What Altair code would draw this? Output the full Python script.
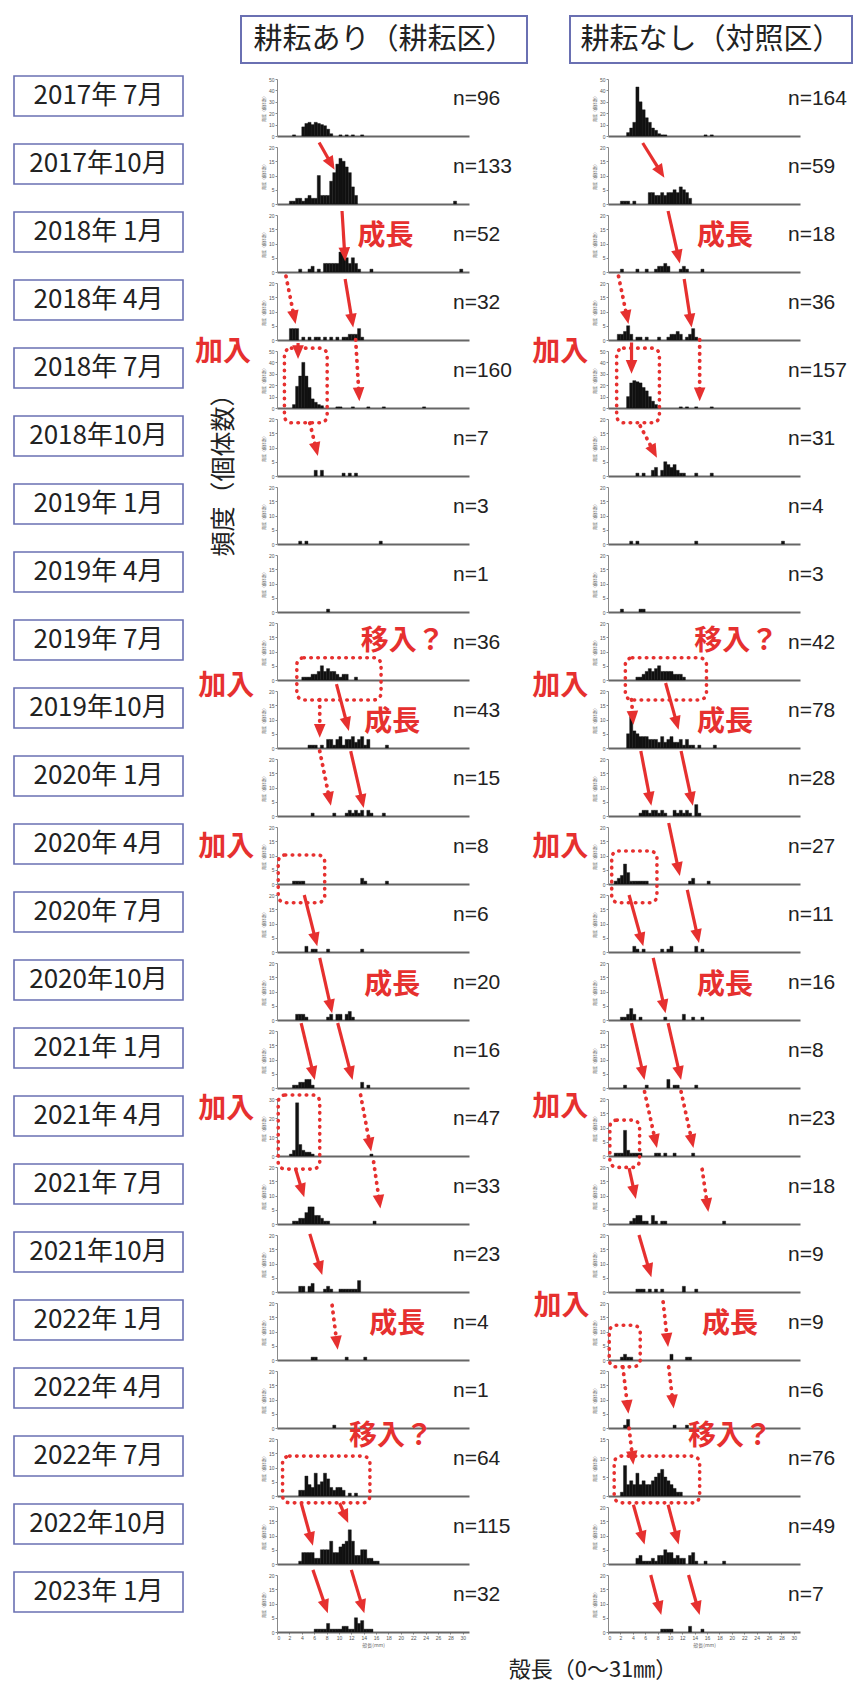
import math
import altair as alt
import pandas as pd

# ---------------------------------------------------------------- data
periods = ["2017年 7月", "2017年10月", "2018年 1月", "2018年 4月", "2018年 7月", "2018年10月",
           "2019年 1月", "2019年 4月", "2019年 7月", "2019年10月", "2020年 1月", "2020年 4月",
           "2020年 7月", "2020年10月", "2021年 1月", "2021年 4月", "2021年 7月", "2021年10月",
           "2022年 1月", "2022年 4月", "2022年 7月", "2022年10月", "2023年 1月"]

n_tilled = [96, 133, 52, 32, 160, 7, 3, 1, 36, 43, 15, 8, 6, 20, 16, 47, 33, 23, 4, 1, 64, 115, 32]
n_control = [164, 59, 18, 36, 157, 31, 4, 3, 42, 78, 28, 27, 11, 16, 8, 23, 18, 9, 9, 6, 76, 49, 7]

# top of each panel's frequency axis
ymax_tilled = [50, 20, 20, 20, 50, 20, 20, 20, 20, 20, 20, 20, 20, 20, 20, 30, 20, 20, 20, 20, 20, 20, 20]
ymax_control = [50, 20, 20, 20, 50, 20, 20, 20, 20, 20, 20, 20, 20, 20, 20, 20, 20, 20, 20, 20, 15, 20, 20]

# shell-length frequency: (bin start in mm, count), 0.5 mm bins
tilled_hist = [
    [(2.5, 1), (4.0, 8), (4.5, 11), (5.0, 12), (5.5, 10), (6.0, 12), (6.5, 11), (7.0, 10), (7.5, 9), (8.0, 6), (8.5, 2), (10.0, 1), (11.0, 1), (12.0, 1), (13.5, 1)],
    [(2.0, 1), (2.5, 1), (3.0, 2), (3.5, 2), (4.0, 1), (4.5, 2), (5.0, 3), (5.5, 2), (6.0, 2), (6.5, 10), (7.0, 3), (7.5, 3), (8.0, 3), (8.5, 8), (9.0, 11), (9.5, 14), (10.0, 16), (10.5, 15), (11.0, 13), (11.5, 11), (12.0, 6), (12.5, 3), (28.5, 1)],
    [(3.5, 1), (5.0, 1), (5.5, 2), (6.5, 1), (7.5, 3), (8.0, 3), (8.5, 3), (9.0, 3), (9.5, 3), (10.0, 7), (10.5, 6), (11.0, 5), (11.5, 3), (12.0, 5), (12.5, 3), (13.0, 1), (15.0, 1), (29.5, 1)],
    [(2.0, 4), (2.5, 4), (3.0, 4), (4.0, 1), (5.0, 1), (6.0, 1), (6.5, 1), (7.5, 1), (8.5, 1), (9.5, 1), (10.5, 1), (11.0, 1), (11.5, 2), (12.0, 2), (12.5, 2), (13.0, 4), (13.5, 1)],
    [(2.5, 3), (3.0, 19), (3.5, 28), (4.0, 40), (4.5, 28), (5.0, 18), (5.5, 8), (6.0, 5), (6.5, 3), (7.0, 2), (9.5, 1), (10.0, 1), (12.0, 1), (14.5, 1), (17.0, 1), (23.5, 1)],
    [(6.0, 2), (7.0, 2), (10.5, 1), (11.5, 1), (12.5, 1)],
    [(3.5, 1), (4.5, 1), (16.5, 1)],
    [(8.0, 1)],
    [(4.0, 1), (4.5, 1), (5.0, 1), (5.5, 2), (6.0, 2), (6.5, 3), (7.0, 5), (7.5, 3), (8.0, 4), (8.5, 3), (9.0, 3), (9.5, 2), (10.0, 1), (10.5, 2), (11.0, 2), (12.5, 1)],
    [(5.0, 1), (5.5, 1), (6.0, 1), (7.0, 1), (8.0, 3), (8.5, 3), (9.0, 1), (9.5, 3), (10.0, 4), (10.5, 1), (11.0, 3), (11.5, 3), (12.0, 4), (12.5, 2), (13.0, 3), (13.5, 4), (14.0, 1), (14.5, 3), (17.5, 1)],
    [(5.5, 1), (9.0, 1), (11.0, 1), (11.5, 2), (12.0, 1), (12.5, 2), (13.0, 1), (13.5, 2), (14.5, 2), (15.0, 1), (17.0, 1)],
    [(2.5, 1), (3.0, 1), (3.5, 1), (4.0, 1), (13.5, 2), (14.0, 1), (17.5, 1)],
    [(4.5, 2), (5.5, 1), (6.0, 1), (8.0, 1), (13.5, 1)],
    [(3.0, 2), (3.5, 2), (4.0, 2), (4.5, 1), (8.0, 1), (8.5, 2), (9.5, 2), (10.0, 2), (11.0, 2), (11.5, 3), (12.0, 1)],
    [(2.5, 1), (3.0, 1), (3.5, 2), (4.0, 2), (4.5, 3), (5.0, 3), (5.5, 1), (13.5, 2), (14.5, 1)],
    [(2.0, 1), (2.5, 3), (3.0, 28), (3.5, 6), (4.0, 3), (4.5, 2), (5.0, 2), (5.5, 1), (15.0, 1)],
    [(2.5, 1), (3.0, 1), (3.5, 2), (4.0, 2), (4.5, 4), (5.0, 6), (5.5, 6), (6.0, 3), (6.5, 3), (7.0, 2), (7.5, 1), (8.0, 1), (15.5, 1)],
    [(3.5, 2), (4.0, 2), (5.0, 2), (5.5, 3), (7.5, 1), (8.0, 2), (8.5, 1), (10.0, 1), (10.5, 1), (11.0, 1), (11.5, 1), (12.0, 1), (12.5, 1), (13.0, 4)],
    [(5.5, 1), (6.0, 1), (11.0, 1), (14.0, 1)],
    [(9.0, 1)],
    [(3.5, 2), (4.0, 2), (4.5, 7), (5.0, 4), (5.5, 3), (6.0, 8), (6.5, 4), (7.0, 5), (7.5, 8), (8.0, 6), (8.5, 3), (9.0, 2), (9.5, 3), (10.0, 3), (10.5, 2), (11.5, 1), (12.5, 1)],
    [(3.5, 1), (4.0, 4), (4.5, 4), (5.0, 4), (5.5, 4), (6.0, 2), (6.5, 2), (7.0, 5), (7.5, 5), (8.0, 5), (8.5, 8), (9.0, 4), (9.5, 4), (10.0, 6), (10.5, 7), (11.0, 8), (11.5, 12), (12.0, 8), (12.5, 3), (13.0, 3), (13.5, 5), (14.0, 5), (14.5, 2), (15.0, 2), (15.5, 1), (16.0, 1)],
    [(6.0, 1), (6.5, 1), (7.0, 1), (7.5, 1), (8.0, 3), (8.5, 1), (9.0, 1), (9.5, 1), (10.0, 1), (10.5, 2), (11.0, 2), (11.5, 1), (12.0, 1), (12.5, 5), (13.0, 3), (13.5, 4), (14.0, 1), (14.5, 1), (15.0, 1)],
]

control_hist = [
    [(3.0, 3), (3.5, 7), (4.0, 12), (4.5, 43), (5.0, 30), (5.5, 23), (6.0, 16), (6.5, 12), (7.0, 7), (7.5, 5), (8.0, 2), (8.5, 1), (9.0, 1), (15.5, 1), (16.5, 1)],
    [(2.0, 1), (2.5, 1), (3.0, 1), (4.0, 1), (6.5, 4), (7.0, 4), (7.5, 3), (8.0, 3), (8.5, 4), (9.0, 3), (9.5, 4), (10.0, 4), (10.5, 5), (11.0, 4), (11.5, 6), (12.0, 5), (12.5, 4), (13.0, 2)],
    [(2.0, 1), (4.5, 1), (6.0, 1), (7.5, 1), (8.0, 2), (8.5, 2), (9.0, 3), (9.5, 2), (11.5, 1), (12.0, 2), (12.5, 1), (15.0, 1)],
    [(1.5, 2), (2.0, 2), (2.5, 3), (3.0, 5), (3.5, 2), (4.5, 1), (5.0, 1), (6.0, 1), (8.0, 1), (9.5, 1), (10.0, 2), (10.5, 2), (11.0, 3), (11.5, 2), (12.5, 1), (13.0, 2), (13.5, 4), (14.0, 1)],
    [(3.0, 10), (3.5, 22), (4.0, 24), (4.5, 23), (5.0, 22), (5.5, 18), (6.0, 15), (6.5, 10), (7.0, 6), (7.5, 3), (11.5, 1), (12.5, 1), (14.0, 1), (16.5, 1)],
    [(4.5, 1), (5.5, 1), (7.0, 2), (7.5, 3), (8.5, 2), (9.0, 5), (9.5, 4), (10.0, 3), (10.5, 4), (11.0, 2), (11.5, 1), (12.0, 1), (14.0, 1), (16.5, 1)],
    [(3.5, 1), (4.5, 1), (14.0, 1), (28.0, 1)],
    [(2.0, 1), (5.0, 1), (5.5, 1)],
    [(4.5, 1), (5.0, 1), (5.5, 2), (6.0, 3), (6.5, 4), (7.0, 3), (7.5, 4), (8.0, 5), (8.5, 3), (9.0, 3), (9.5, 3), (10.0, 3), (10.5, 2), (11.0, 2), (11.5, 2), (12.0, 1)],
    [(3.0, 5), (3.5, 11), (4.0, 6), (4.5, 5), (5.0, 4), (5.5, 4), (6.0, 4), (6.5, 3), (7.0, 3), (7.5, 3), (8.0, 2), (8.5, 4), (9.0, 2), (9.5, 3), (10.0, 4), (10.5, 2), (11.0, 2), (11.5, 3), (12.0, 1), (12.5, 3), (13.0, 1), (13.5, 1), (14.5, 1), (17.0, 1)],
    [(5.0, 1), (5.5, 2), (6.0, 2), (6.5, 1), (7.0, 2), (7.5, 2), (8.0, 1), (8.5, 2), (9.0, 1), (10.5, 2), (11.0, 1), (11.5, 2), (12.0, 1), (12.5, 2), (13.0, 1), (14.0, 4), (14.5, 1)],
    [(1.0, 1), (1.5, 2), (2.0, 3), (2.5, 7), (3.0, 4), (3.5, 1), (4.0, 1), (4.5, 1), (5.0, 1), (5.5, 1), (6.0, 1), (13.0, 1), (13.5, 2), (16.0, 1)],
    [(4.0, 2), (4.5, 1), (5.5, 1), (8.5, 1), (9.5, 1), (10.0, 2), (14.0, 2), (15.0, 1)],
    [(2.0, 1), (2.5, 1), (3.0, 2), (3.5, 4), (4.0, 2), (5.0, 1), (9.0, 1), (12.0, 2), (13.5, 1), (15.0, 1)],
    [(2.5, 1), (6.0, 1), (9.5, 3), (10.5, 1), (11.0, 1), (14.0, 1)],
    [(1.0, 1), (1.5, 1), (2.0, 1), (2.5, 9), (3.0, 2), (3.5, 1), (4.0, 1), (4.5, 1), (5.0, 1), (7.5, 1), (8.0, 1), (9.0, 1), (10.5, 1), (13.5, 1)],
    [(3.5, 1), (4.0, 2), (4.5, 3), (5.0, 3), (5.5, 1), (6.0, 1), (7.0, 3), (7.5, 1), (8.5, 1), (9.0, 1), (18.5, 1)],
    [(4.5, 1), (5.0, 1), (5.5, 1), (6.5, 1), (7.5, 1), (8.5, 1), (12.0, 2), (14.0, 1)],
    [(2.0, 1), (2.5, 2), (3.0, 1), (3.5, 1), (10.0, 2), (12.5, 1), (13.0, 1)],
    [(2.5, 1), (3.0, 3), (10.5, 1), (12.5, 1)],
    [(2.0, 1), (2.5, 8), (3.0, 3), (3.5, 4), (4.0, 3), (4.5, 6), (5.0, 3), (5.5, 4), (6.0, 3), (6.5, 3), (7.0, 4), (7.5, 5), (8.0, 6), (8.5, 7), (9.0, 5), (9.5, 4), (10.0, 3), (10.5, 2), (11.0, 1), (11.5, 1)],
    [(4.5, 2), (5.0, 3), (5.5, 1), (6.0, 1), (6.5, 1), (7.0, 2), (7.5, 1), (8.0, 3), (8.5, 3), (9.0, 5), (9.5, 4), (10.0, 4), (10.5, 2), (11.0, 3), (11.5, 2), (12.0, 2), (13.0, 3), (13.5, 4), (14.0, 1), (15.5, 1), (18.5, 1)],
    [(8.5, 1), (9.0, 1), (9.5, 1), (10.0, 1), (13.0, 2), (15.0, 1)],
]

# cohort annotations; vertical positions are in panel heights above the panel's baseline
# arrows: (row, mm_from, h_from, mm_to, h_to, dotted)
tilled_arrows = [
    (1, 6.8, 1.08, 9.3, 0.60, False),
    (2, 10.5, 1.07, 11.0, 0.19, False),
    (3, 1.45, 1.12, 3.0, 0.28, True), (3, 11.0, 1.07, 12.3, 0.22, False),
    (4, 3.4, 1.14, 3.4, 0.86, False), (4, 12.7, 1.20, 13.3, 0.12, True),
    (5, 5.3, 0.93, 6.6, 0.35, True),
    (9, 9.6, 1.12, 11.6, 0.30, False), (9, 6.9, 0.85, 6.9, 0.18, True),
    (10, 6.9, 1.14, 8.7, 0.18, True), (10, 11.9, 1.14, 14.0, 0.14, False),
    (12, 4.4, 1.00, 6.5, 0.10, False),
    (13, 6.9, 1.09, 8.9, 0.12, False),
    (14, 3.9, 1.14, 6.1, 0.14, False), (14, 9.8, 1.14, 12.2, 0.14, False),
    (15, 13.5, 1.07, 15.2, 0.08, True),
    (16, 3.0, 0.96, 4.4, 0.47, False), (16, 15.6, 1.09, 16.7, 0.27, True),
    (17, 5.3, 1.02, 7.3, 0.30, False),
    (18, 8.9, 0.96, 9.8, 0.18, True),
    (21, 3.9, 1.07, 5.8, 0.32, False), (21, 10.1, 1.07, 11.5, 0.72, False),
    (22, 5.8, 1.09, 8.2, 0.33, False), (22, 12.0, 1.09, 14.1, 0.33, False),
]
control_arrows = [
    (1, 5.6, 1.07, 9.1, 0.46, False),
    (2, 9.7, 1.07, 11.6, 0.15, False),
    (3, 1.7, 1.12, 3.3, 0.28, True), (3, 12.3, 1.07, 13.5, 0.22, False),
    (4, 3.8, 1.15, 3.8, 0.60, False), (4, 14.8, 1.20, 14.8, 0.12, True),
    (5, 5.2, 0.88, 7.9, 0.32, True),
    (9, 9.3, 1.14, 11.4, 0.32, False), (9, 3.8, 0.85, 4.1, 0.41, True),
    (10, 5.3, 1.14, 7.0, 0.18, False), (10, 11.8, 1.14, 13.7, 0.18, False),
    (11, 9.8, 1.07, 11.6, 0.14, False),
    (12, 3.4, 1.00, 5.7, 0.10, False), (12, 12.8, 1.09, 14.7, 0.16, False),
    (13, 7.3, 1.09, 9.3, 0.12, False),
    (14, 3.8, 1.14, 5.9, 0.14, False), (14, 9.7, 1.14, 11.8, 0.14, False),
    (15, 5.9, 1.13, 7.9, 0.14, True), (15, 11.8, 1.13, 13.8, 0.14, True),
    (16, 3.4, 0.98, 4.5, 0.44, False), (16, 15.2, 0.96, 16.2, 0.21, True),
    (17, 5.0, 1.00, 7.0, 0.26, False),
    (18, 8.9, 1.02, 9.7, 0.23, True),
    (19, 2.4, 1.07, 3.3, 0.25, True), (19, 9.8, 1.07, 10.6, 0.34, True),
    (20, 3.4, 1.19, 4.1, 0.55, True),
    (21, 4.1, 1.04, 5.9, 0.34, False), (21, 9.7, 1.04, 11.4, 0.34, False),
    (22, 6.9, 1.00, 8.6, 0.30, False), (22, 13.0, 1.00, 14.8, 0.30, False),
]

# dotted outlines around recruits / immigrants: (row, mm_left, h_top, mm_right, h_bottom)
tilled_boxes = [
    (4, 1.2, 1.05, 8.1, -0.26),
    (8, 3.2, 0.39, 16.8, -0.35),
    (11, 0.2, 0.51, 7.7, -0.33),
    (15, 0.2, 1.07, 6.9, -0.23),
    (20, 0.9, 0.70, 15.0, -0.12),
]
control_boxes = [
    (4, 1.4, 1.05, 8.3, -0.26),
    (8, 2.8, 0.39, 15.9, -0.35),
    (11, 0.6, 0.58, 7.9, -0.33),
    (15, 0.3, 0.63, 5.1, -0.20),
    (18, 0.2, 0.61, 5.2, -0.12),
    (20, 1.0, 0.70, 14.8, -0.12),
]

# notes: (row, mm, h, text)
tilled_notes = [
    (2, 17.5, 0.61, "成長"), (4, -8.7, 0.96, "加入"), (8, 20.3, 0.67, "移入？"),
    (8, -8.2, -0.12, "加入"), (9, 18.6, 0.44, "成長"), (11, -8.2, 0.64, "加入"),
    (13, 18.6, 0.60, "成長"), (15, -8.2, 0.81, "加入"), (18, 19.4, 0.61, "成長"),
    (20, 18.4, 1.04, "移入？"),
]
control_notes = [
    (2, 18.9, 0.61, "成長"), (4, -7.7, 0.96, "加入"), (8, 20.7, 0.67, "移入？"),
    (8, -7.7, -0.12, "加入"), (9, 18.9, 0.44, "成長"), (11, -7.7, 0.64, "加入"),
    (13, 18.9, 0.60, "成長"), (15, -7.7, 0.85, "加入"), (18, -7.5, 0.93, "加入"),
    (18, 19.7, 0.61, "成長"), (20, 19.7, 1.04, "移入？"),
]

# ---------------------------------------------------------------- style
PANEL_W, PANEL_H = 192, 57
LABEL_W = 124
X_MAX = 31
BIN = 0.5
PX_PER_MM = PANEL_W / X_MAX
RED = "#e6302f"
BOX_BLUE = "#6a70b2"
FONT_JP = "Noto Sans CJK JP"
HEAD = "M0,0L-0.42,-1L0.42,-1Z"   # arrowhead with its tip at the origin, pointing down
HEAD_SIZE = 760
HEAD_LEN = math.sqrt(HEAD_SIZE) / 2


def blank(w, h):
    return alt.Chart(pd.DataFrame({"v": [0]})).mark_point(opacity=0).encode(
        x=alt.value(0), y=alt.value(0)).properties(width=w, height=h)


def header(text, x0, x1):
    base = alt.Chart(pd.DataFrame({"t": [text]}))
    box = base.mark_rect(fill="white", stroke=BOX_BLUE, strokeWidth=2).encode(
        x=alt.value(x0), x2=alt.value(x1), y=alt.value(13), y2=alt.value(60))
    lab = base.mark_text(font=FONT_JP, fontSize=29, color="#222").encode(
        x=alt.value((x0 + x1) / 2), y=alt.value(37), text="t:N")
    return alt.layer(box, lab).properties(width=PANEL_W, height=65)


def label_cell(text):
    base = alt.Chart(pd.DataFrame({"t": [text]}))
    box = base.mark_rect(fill="white", stroke=BOX_BLUE, strokeWidth=1.6).encode(
        x=alt.value(0), x2=alt.value(169), y=alt.value(-3), y2=alt.value(37))
    lab = base.mark_text(font=FONT_JP, fontSize=26, color="#222").encode(
        x=alt.value(84.5), y=alt.value(17), text="t:N")
    return alt.layer(box, lab).properties(width=LABEL_W, height=PANEL_H)


def arrow_frame(rows, ymax):
    recs = []
    for (_, x1, f1, x2, f2, dotted) in rows:
        dxp = (x2 - x1) * PX_PER_MM
        dyp = -(f2 - f1) * PANEL_H
        length = math.hypot(dxp, dyp)
        ux, uy = dxp / length, dyp / length
        back = HEAD_LEN - 3
        recs.append({
            "x": x1, "y": f1 * ymax,
            "xe": x2 - ux * back / PX_PER_MM, "ye": (f2 + uy * back / PANEL_H) * ymax,
            "hx": x2, "hy": f2 * ymax,
            "ang": math.degrees(math.atan2(-dxp, dyp)) % 360,
            "dotted": dotted,
        })
    return pd.DataFrame(recs)


def panel(i, hist, n, ymax, arrows, boxes, notes, n_x, extra=None):
    last = i == len(periods) - 1
    xs = alt.Scale(domain=[0, X_MAX], nice=False, zero=False)
    ys = alt.Scale(domain=[0, ymax], nice=False)
    step = 10 if ymax >= 30 else 5
    yaxis = alt.Axis(values=list(range(0, ymax + 1, step)), labelFontSize=5, labelColor="#555",
                     labelPadding=1, tickSize=2, tickColor="#888", domainColor="#888",
                     domainWidth=1, grid=False, title="頻度（個体数）", titleFont=FONT_JP,
                     titleFontSize=4, titleColor="#666", titlePadding=2, titleFontWeight="normal")
    if last:
        xaxis = alt.Axis(values=list(range(0, 31, 2)), labelFontSize=5, labelColor="#555",
                         labelPadding=1, tickSize=2, tickColor="#888", domainColor="#666",
                         domainWidth=2, grid=False, title="殻長(mm)", titleFont=FONT_JP,
                         titleFontSize=5, titleColor="#666", titlePadding=2,
                         titleFontWeight="normal")
    else:
        xaxis = alt.Axis(labels=False, ticks=False, domainColor="#666", domainWidth=2,
                         grid=False, title="")

    def X(field):
        return alt.X(field, scale=xs, axis=xaxis)

    def Y(field):
        return alt.Y(field, scale=ys, axis=yaxis)

    hdf = pd.DataFrame(hist, columns=["lo", "cnt"])
    hdf["hi"] = hdf["lo"] + BIN
    hdf["base"] = 0
    bars = alt.Chart(hdf).mark_bar(color="#111", stroke="#111", strokeWidth=0.4).encode(
        x=X("lo:Q"), x2="hi:Q", y=Y("cnt:Q"), y2="base:Q")
    ntext = alt.Chart(pd.DataFrame({"t": [f"n={n}"]})).mark_text(
        align="left", baseline="middle", font="Liberation Sans", fontSize=21, color="#222"
    ).encode(x=alt.value(n_x), y=alt.value(20), text="t:N")
    layers = [bars, ntext]

    brows = [b for b in boxes if b[0] == i]
    if brows:
        bdf = pd.DataFrame([{"x": b[1], "y": b[2] * ymax, "x2": b[3], "y2": b[4] * ymax} for b in brows])
        layers.append(alt.Chart(bdf).mark_rect(
            filled=False, color=RED, strokeWidth=3.6, strokeDash=[0.5, 6.5], strokeCap="round",
            cornerRadius=7).encode(x=X("x:Q"), x2="x2:Q", y=Y("y:Q"), y2="y2:Q"))

    arows = [a for a in arrows if a[0] == i]
    if arows:
        adf = arrow_frame(arows, ymax)
        solid = adf[~adf["dotted"]]
        dotted = adf[adf["dotted"]]
        if len(solid):
            layers.append(alt.Chart(solid).mark_rule(color=RED, strokeWidth=3.2).encode(
                x=X("x:Q"), y=Y("y:Q"), x2="xe:Q", y2="ye:Q"))
        if len(dotted):
            layers.append(alt.Chart(dotted).mark_rule(
                color=RED, strokeWidth=3.8, strokeDash=[0.5, 6.5], strokeCap="round").encode(
                x=X("x:Q"), y=Y("y:Q"), x2="xe:Q", y2="ye:Q"))
        layers.append(alt.Chart(adf).mark_point(
            shape=HEAD, filled=True, color=RED, size=HEAD_SIZE, opacity=1).encode(
            x=X("hx:Q"), y=Y("hy:Q"), angle=alt.Angle("ang:Q", scale=None)))

    nrows = [t for t in notes if t[0] == i]
    if nrows:
        tdf = pd.DataFrame([{"x": t[1], "y": t[2] * ymax, "t": t[3]} for t in nrows])
        layers.append(alt.Chart(tdf).mark_text(
            font=FONT_JP, fontSize=28, fontWeight="bold", color=RED, baseline="middle").encode(
            x=X("x:Q"), y=Y("y:Q"), text="t:N"))

    if extra is not None:
        layers.append(extra)
    return alt.layer(*layers).properties(width=PANEL_W, height=PANEL_H)


# axis title shared by all panels, written once beside the left column
side_title = alt.Chart(pd.DataFrame({"t": ["頻度（個体数）"]})).mark_text(
    angle=270, font=FONT_JP, fontSize=25, color="#222").encode(
    x=alt.value(-53), y=alt.value(50), text="t:N")

footer = alt.Chart(pd.DataFrame({"t": ["殻長（0〜31㎜）"]})).mark_text(
    font=FONT_JP, fontSize=22, color="#222").encode(
    x=alt.value(316), y=alt.value(27), text="t:N").properties(width=PANEL_W, height=44)

cells = [blank(LABEL_W, 65), header("耕耘あり（耕耘区）", -36, 250), header("耕耘なし（対照区）", -38, 244)]
for i, period in enumerate(periods):
    cells.append(label_cell(period))
    cells.append(panel(i, tilled_hist[i], n_tilled[i], ymax_tilled[i], tilled_arrows,
                       tilled_boxes, tilled_notes, 176, side_title if i == 5 else None))
    cells.append(panel(i, control_hist[i], n_control[i], ymax_control[i], control_arrows,
                       control_boxes, control_notes, 180))
cells += [blank(LABEL_W, 44), footer, blank(PANEL_W, 44)]

chart = alt.concat(
    *cells, columns=3, spacing={"row": 11, "column": 139}, bounds="flush"
).properties(
    padding={"left": 11, "top": 0, "right": 0, "bottom": 0}, background="white"
).configure_view(strokeWidth=0)

chart.save("out.html", embed_options={"renderer": "svg", "actions": False})
